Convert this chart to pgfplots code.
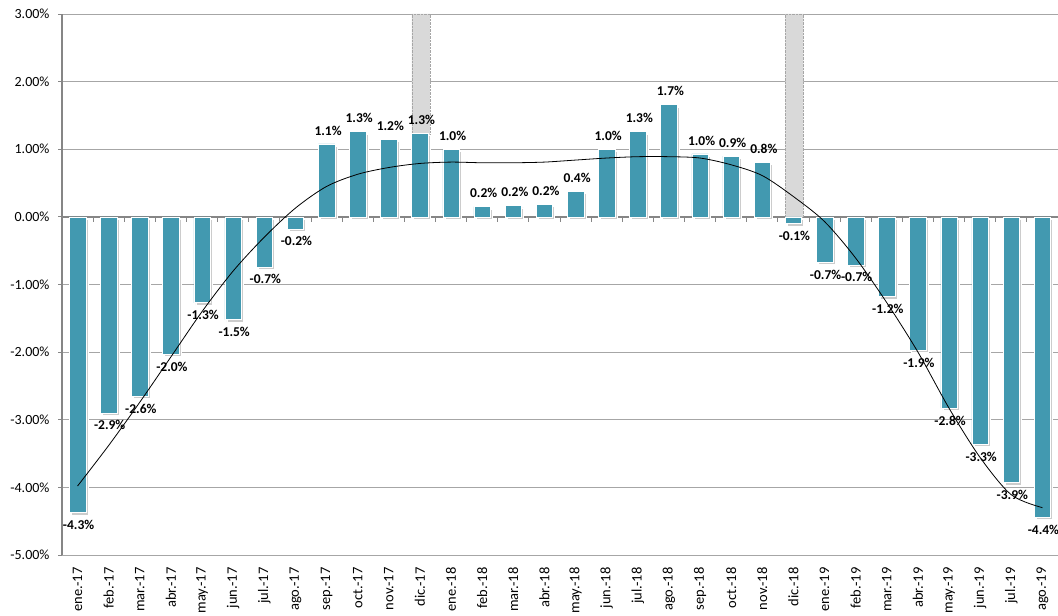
\documentclass[border=0pt]{standalone}
\usepackage{fontspec}
\setmainfont{Carlito}
\usepackage{pgfplots}
\usepackage{pgfplotstable}
\pgfplotsset{compat=1.18}
\definecolor{barteal}{RGB}{66,153,176}
\definecolor{gridg}{RGB}{166,166,166}
\definecolor{axg}{RGB}{134,134,134}
\definecolor{band}{RGB}{217,217,217}

% negative bars
\pgfplotstableread{
x y lab
0 -4.37 -4.3
1 -2.90 -2.9
2 -2.65 -2.6
3 -2.03 -2.0
4 -1.27 -1.3
5 -1.52 -1.5
6 -0.74 -0.7
7 -0.18 -0.2
23 -0.10 -0.1
24 -0.67 -0.7
25 -0.71 -0.7
26 -1.18 -1.2
27 -1.97 -1.9
28 -2.83 -2.8
29 -3.36 -3.3
30 -3.93 -3.9
31 -4.44 -4.4
}\negbars

% positive bars
\pgfplotstableread{
x y lab
8 1.08 1.1
9 1.26 1.3
10 1.15 1.2
11 1.24 1.3
12 1.00 1.0
13 0.15 0.2
14 0.17 0.2
15 0.19 0.2
16 0.38 0.4
17 1.00 1.0
18 1.26 1.3
19 1.66 1.7
20 0.93 1.0
21 0.90 0.9
22 0.81 0.8
}\posbars

\pgfplotstableread{
x y
0 -3.98
1 -3.38
2 -2.74
3 -2.07
4 -1.40
5 -0.80
6 -0.30
7 0.13
8 0.45
9 0.63
10 0.73
11 0.79
12 0.81
13 0.80
14 0.80
15 0.81
16 0.84
17 0.87
18 0.89
19 0.89
20 0.87
21 0.77
22 0.61
23 0.30
24 -0.07
25 -0.61
26 -1.27
27 -2.00
28 -2.83
29 -3.56
30 -4.11
31 -4.30
}\trend

\pgfplotstableread{
x y
11 3
23 3
}\bands

\begin{document}
\begin{tikzpicture}
\begin{axis}[
  scale only axis, width=996pt, height=541pt,
  xmin=-0.5, xmax=31.5, ymin=-5, ymax=3,
  axis x line*=bottom, axis y line*=left,
  x axis line style={-, gridg, line width=0.8pt},
  y axis line style={-, axg, line width=1.6pt},
  ytick={-5,-4,-3,-2,-1,0,1,2,3},
  yticklabels={-5.00\%,-4.00\%,-3.00\%,-2.00\%,-1.00\%,0.00\%,1.00\%,2.00\%,3.00\%},
  ymajorgrids, grid style={gridg, line width=0.8pt},
  xtick={0,...,31},
  xticklabels={ene.-17,feb.-17,mar.-17,abr.-17,may.-17,jun.-17,jul.-17,ago.-17,sep.-17,oct.-17,nov.-17,dic.-17,ene.-18,feb.-18,mar.-18,abr.-18,may.-18,jun.-18,jul.-18,ago.-18,sep.-18,oct.-18,nov.-18,dic.-18,ene.-19,feb.-19,mar.-19,abr.-19,may.-19,jun.-19,jul.-19,ago.-19},
  xticklabel style={rotate=90, anchor=east, font=\fontsize{14.5}{16}\selectfont},
  xticklabel shift=5pt,
  yticklabel style={font=\fontsize{14}{16}\selectfont, xshift=-5pt},
  x tick style={draw=none},
  y tick style={axg, line width=0.8pt},
  major tick length=4pt, tick align=outside,
  extra y ticks={0}, extra y tick labels={},
  extra y tick style={grid style={axg, line width=1.4pt}, tick style={draw=none}},
  clip=false,
  barstyle/.style={ybar, bar width=16.5pt, bar shift=0pt, fill=barteal, draw=white, line width=0.6pt,
    preaction={fill=black!20, transform canvas={shift={(2pt,-2.5pt)}}},
    nodes near coords={\pgfplotspointmeta\%}, point meta=explicit symbolic},
]
\addplot[ybar, bar width=18pt, bar shift=1pt, fill=band, draw=gray!70, densely dotted] table[x=x,y=y]{\bands};
\addplot[barstyle,
  nodes near coords style={font=\bfseries\fontsize{13.5}{15}\selectfont, text=black, anchor=south, xshift=1.5pt, yshift=5pt}]
  table[x=x,y=y,meta=lab]{\posbars};
\addplot[barstyle,
  nodes near coords style={font=\bfseries\fontsize{13.5}{15}\selectfont, text=black, anchor=north, xshift=1pt, yshift=-4pt}]
  table[x=x,y=y,meta=lab]{\negbars};
\addplot[black, line width=0.8pt, smooth, no markers] table[x=x,y=y]{\trend};
\pgfplotsinvokeforeach{-0.5,0.5,...,31.5}{\draw[axg, line width=0.8pt] (axis cs:#1,0) -- ++(0pt,-5pt);}
\end{axis}
\pgfresetboundingbox
\path[use as bounding box] ([xshift=-62pt,yshift=-61pt]current axis.south west) rectangle ([yshift=14pt]current axis.north east);
\end{tikzpicture}
\end{document}
